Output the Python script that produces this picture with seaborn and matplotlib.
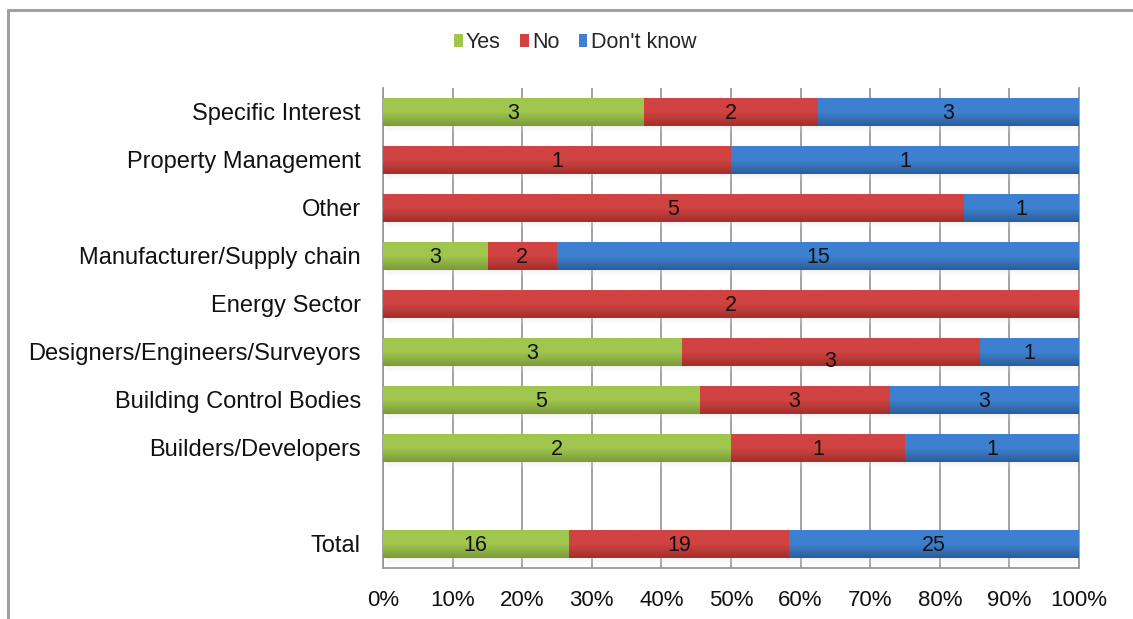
import numpy as np
import pandas as pd
import matplotlib
matplotlib.use("Agg")
import matplotlib.pyplot as plt
from matplotlib.colors import LinearSegmentedColormap
from matplotlib.patches import Patch
from matplotlib.lines import Line2D
import seaborn as sns

# Survey responses per stakeholder group
categories = [
    "Specific Interest",
    "Property Management",
    "Other",
    "Manufacturer/Supply chain",
    "Energy Sector",
    "Designers/Engineers/Surveyors",
    "Building Control Bodies",
    "Builders/Developers",
    " ",
    "Total",
]
yes_counts = [3, 0, 0, 3, 0, 3, 5, 2, 0, 16]
no_counts = [2, 1, 5, 2, 2, 3, 3, 1, 0, 19]
dk_counts = [3, 1, 1, 15, 0, 1, 3, 1, 0, 25]
series_names = ["Yes", "No", "Don't know"]
tick_labels = ["0%", "10%", "20%", "30%", "40%", "50%", "60%", "70%", "80%", "90%", "100%"]

sns.set_theme(style="white")
plt.rcParams["font.family"] = ["Liberation Sans", "DejaVu Sans"]

df = pd.DataFrame({"category": categories, "Yes": yes_counts,
                   "No": no_counts, "Don't know": dk_counts})
tot = df[series_names].sum(axis=1).replace(0, np.nan)
pct = df[series_names].div(tot, axis=0).fillna(0) * 100
df["cum_yes"] = pct["Yes"]
df["cum_no"] = pct["Yes"] + pct["No"]
df["cum_dk"] = pct["Yes"] + pct["No"] + pct["Don't know"]

colors = {
    "Yes": ("#a0c64e", "#7a9a38"),
    "No": ("#d04341", "#a22e2c"),
    "Don't know": ("#3e80d0", "#2d5d9b"),
}

fig = plt.figure(figsize=(11.33, 6.19), dpi=100)
ax = fig.add_axes([383 / 1133, 1 - 568 / 619, (1079 - 383) / 1133, (568 - 88) / 619])

bar_h = 0.58
# stacked bars drawn as overlapping cumulative layers
for col, name in [("cum_dk", "Don't know"), ("cum_no", "No"), ("cum_yes", "Yes")]:
    sns.barplot(data=df, x=col, y="category", order=categories, orient="h",
                color=colors[name][0], width=bar_h, ax=ax, zorder=3, linewidth=0)

# soft shadow under each full bar
cmap_sh = LinearSegmentedColormap.from_list("sh", [(1, 1, 1, 0), (0.55, 0.55, 0.55, 1)])
for i, c in enumerate(categories):
    if df.loc[i, "cum_dk"] <= 0:
        continue
    shade = np.linspace(0.35, 0.0, 20).reshape(-1, 1)
    ax.imshow(shade, cmap=cmap_sh, vmin=0, vmax=1, aspect="auto", origin="upper",
              extent=(0.3, df.loc[i, "cum_dk"], i + bar_h / 2 + 0.16, i + bar_h / 2),
              zorder=2, interpolation="bilinear")

# vertical gradient fill for each bar segment
layer_names = ["Don't know", "No", "Yes"]
n = len(categories)
for k, name in enumerate(layer_names):
    cmap = LinearSegmentedColormap.from_list(name, [colors[name][0], colors[name][0], colors[name][1]])
    grad = np.linspace(0, 1, 64).reshape(-1, 1)
    for p in ax.patches[k * n:(k + 1) * n]:
        w = p.get_width()
        if w <= 0:
            continue
        x0, y0, h = p.get_x(), p.get_y(), p.get_height()
        p.set_facecolor("none")
        ax.imshow(grad, cmap=cmap, aspect="auto", origin="upper",
                  extent=(x0, x0 + w, y0 + h, y0), zorder=3 + k * 0.1,
                  interpolation="bilinear")

# count labels centred in each segment
for i in range(n):
    starts = [0, df.loc[i, "cum_yes"], df.loc[i, "cum_no"]]
    for j, name in enumerate(series_names):
        cnt = df.loc[i, name]
        if cnt == 0:
            continue
        xc = starts[j] + pct.loc[i, name] / 2
        dy = -7 if (categories[i] == "Designers/Engineers/Surveyors" and name == "No") else -1
        ax.annotate(str(cnt), (xc, i), xytext=(0, dy), textcoords="offset points",
                    ha="center", va="center", fontsize=15.5, color="#111111", zorder=6)

ax.set_xlim(0, 100)
ax.set_ylim(n - 0.5, -0.5)
ax.set_xticks(np.arange(0, 101, 10))
ax.set_xticklabels(tick_labels)
ax.set_xlabel("")
ax.set_ylabel("")
ax.grid(axis="x", color="#9a9a9a", linewidth=1.3, zorder=0)
ax.grid(axis="y", visible=False)
ax.set_axisbelow(True)
ax.tick_params(axis="x", length=0, pad=16, labelsize=16, colors="#111111")
ax.tick_params(axis="y", length=0, pad=16, labelsize=17, colors="#111111")
for side in ["left", "bottom", "right"]:
    ax.spines[side].set_color("#9a9a9a")
    ax.spines[side].set_linewidth(1.3)
ax.spines["top"].set_visible(False)

# legend above the plot
handles = [Patch(facecolor=colors[s][0], edgecolor="none") for s in series_names]
fig.legend(handles, series_names, loc="center", bbox_to_anchor=(575 / 1133, 1 - 43 / 619),
           ncol=3, frameon=False, fontsize=15.5, handlelength=0.4, handleheight=0.55,
           handletextpad=0.15, columnspacing=0.9)

# chart frame
fig.add_artist(Line2D([7.5 / 1133, 7.5 / 1133], [0, 1 - 9.5 / 619], transform=fig.transFigure,
                      color="#a0a0a0", linewidth=2.2))
fig.add_artist(Line2D([7.5 / 1133, 1], [1 - 9.5 / 619, 1 - 9.5 / 619], transform=fig.transFigure,
                      color="#a0a0a0", linewidth=2.2))

fig.savefig("out.png", dpi=100, facecolor="white")
